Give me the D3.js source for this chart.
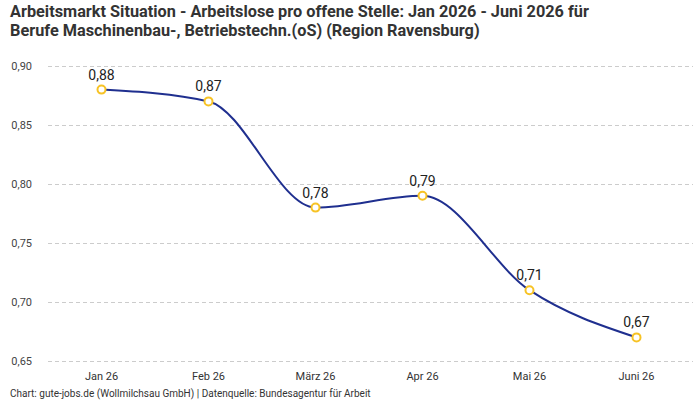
<!DOCTYPE html>
<html>
<head>
<meta charset="utf-8">
<script src="https://cdn.jsdelivr.net/npm/d3@7"></script>
<style>
  body { margin: 0; background: #fff; }
  svg { display: block; }
</style>
</head>
<body>
<div id="chart"></div>
<script>
// data
var months = ["Jan 26", "Feb 26", "März 26", "Apr 26", "Mai 26", "Juni 26"];
var values = [0.88, 0.87, 0.78, 0.79, 0.71, 0.67];
var yTicks = [0.65, 0.70, 0.75, 0.80, 0.85, 0.90];

var svgWidth = 700;
var svgHeight = 400;

var svg = d3.select("#chart")
  .append("svg")
  .attr("width", svgWidth)
  .attr("height", svgHeight)
  .style("font-family", "Roboto, 'Noto Sans', sans-serif");

// title
var title = svg.append("text")
  .attr("x", 10)
  .attr("fill", "#333")
  .attr("font-size", 16.3)
  .attr("font-weight", "bold");
title.append("tspan").attr("x", 10).attr("y", 17)
  .text("Arbeitsmarkt Situation - Arbeitslose pro offene Stelle: Jan 2026 - Juni 2026 für");
title.append("tspan").attr("x", 10).attr("y", 36)
  .text("Berufe Maschinenbau-, Betriebstechn.(oS) (Region Ravensburg)");

// scales
var xScale = d3.scalePoint()
  .domain(months)
  .range([48, 690])
  .padding(0.5);

var yScale = d3.scaleLinear()
  .domain([0.65, 0.90])
  .range([361, 66]);

var fmt = function(v) { return d3.format(".2f")(v).replace(".", ","); };

// grid lines
svg.append("g")
  .selectAll("line")
  .data(yTicks)
  .enter()
  .append("line")
  .attr("x1", 48)
  .attr("x2", 693)
  .attr("y1", d => yScale(d) + 0.5)
  .attr("y2", d => yScale(d) + 0.5)
  .attr("stroke", "#ccc")
  .attr("stroke-dasharray", "4,3");

// y labels
svg.append("g")
  .selectAll("text")
  .data(yTicks)
  .enter()
  .append("text")
  .attr("x", 32)
  .attr("y", d => yScale(d) + 4)
  .attr("text-anchor", "end")
  .attr("font-size", 11)
  .attr("fill", "#444")
  .text(fmt);

// x labels
svg.append("g")
  .selectAll("text")
  .data(months)
  .enter()
  .append("text")
  .attr("x", d => xScale(d))
  .attr("y", 380)
  .attr("text-anchor", "middle")
  .attr("font-size", 11)
  .attr("fill", "#333")
  .text(d => d);

// the line
var line = d3.line()
  .x((d, i) => xScale(months[i]))
  .y(d => yScale(d))
  .curve(d3.curveMonotoneX);

svg.append("path")
  .datum(values)
  .attr("d", line)
  .attr("fill", "none")
  .attr("stroke", "#1f2f8f")
  .attr("stroke-width", 2);

// markers
svg.append("g")
  .selectAll("circle")
  .data(values)
  .enter()
  .append("circle")
  .attr("cx", (d, i) => xScale(months[i]))
  .attr("cy", d => yScale(d))
  .attr("r", 4)
  .attr("fill", "#fff")
  .attr("stroke", "#f7c325")
  .attr("stroke-width", 2);

// value labels
svg.append("g")
  .selectAll("text")
  .data(values)
  .enter()
  .append("text")
  .attr("x", (d, i) => xScale(months[i]))
  .attr("y", d => yScale(d) - 10)
  .attr("text-anchor", "middle")
  .attr("font-size", 14)
  .attr("fill", "#222")
  .text(fmt);

// footer
svg.append("text")
  .attr("x", 10)
  .attr("y", 397)
  .attr("font-size", 10)
  .attr("fill", "#333")
  .text("Chart: gute-jobs.de (Wollmilchsau GmbH) | Datenquelle: Bundesagentur für Arbeit");
</script>
</body>
</html>
